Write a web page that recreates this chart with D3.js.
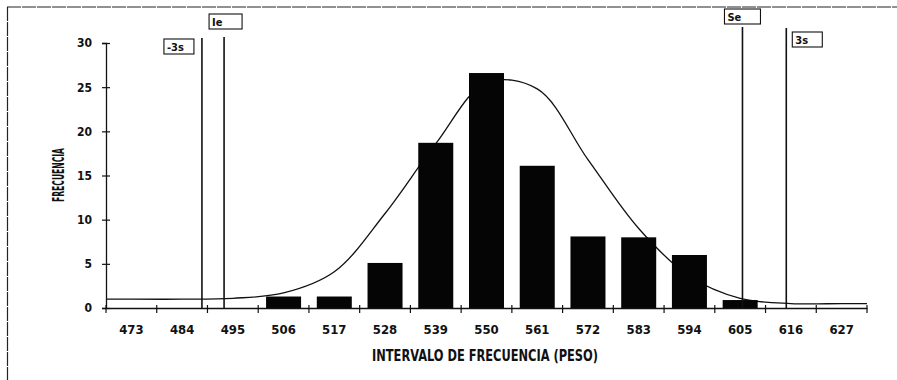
<!DOCTYPE html>
<html>
<head>
<meta charset="utf-8">
<script src="https://cdn.jsdelivr.net/npm/d3@7"></script>
<style>
  html, body { margin: 0; padding: 0; background: #fff; }
  svg { display: block; }
  text { font-family: 'Liberation Sans Narrow', 'DejaVu Sans Condensed', 'Liberation Sans', sans-serif; fill: #111; }
</style>
</head>
<body>
<svg id="chart" width="897" height="380"></svg>
<script>
// ---- data ----
const categories = [473, 484, 495, 506, 517, 528, 539, 550, 561, 572, 583, 594, 605, 616, 627];
const frequency  = [0, 0, 0, 1.3, 1.3, 5.1, 18.7, 26.6, 16.1, 8.1, 8.0, 6.0, 0.9, 0, 0];
const normalCurve = [1.0, 1.0, 1.1, 1.7, 4.1, 10.7, 18.6, 25.5, 24.8, 16.8, 9.0, 3.6, 1.1, 0.5, 0.5];
const yTicks = [0, 5, 10, 15, 20, 25, 30];
const refLabels = ["-3s", "Ie", "Se", "3s"];
const refValues = [488.3, 493.1, 605.5, 615.0];

// ---- layout ----
const W = 897, H = 380;
const plot = { left: 106, right: 867, top: 43, bottom: 308 };
const refStyle = {
  "-3s": { lineTop: 38, boxDx: -38, boxY: 39, boxW: 30 },
  "Ie":  { lineTop: 37, boxDx: -15, boxY: 14, boxW: 33 },
  "Se":  { lineTop: 27, boxDx: -18, boxY: 9,  boxW: 36 },
  "3s":  { lineTop: 28, boxDx: 6,   boxY: 32, boxW: 30 }
};

const svg = d3.select("#chart");

// outer frame (top and left edges visible)
svg.append("line").attr("x1", 7).attr("x2", W).attr("y1", 7).attr("y2", 7)
  .attr("stroke", "#222").attr("stroke-width", 1.2).attr("stroke-dasharray", "14,1");
svg.append("line").attr("x1", 7.5).attr("x2", 7.5).attr("y1", 7).attr("y2", H)
  .attr("stroke", "#222").attr("stroke-width", 1.2).attr("stroke-dasharray", "14,1");

const x = d3.scaleBand().domain(categories).range([plot.left, plot.right]).padding(0);
const y = d3.scaleLinear().domain([0, 30]).range([plot.bottom, plot.top]);
const xv = d3.scaleLinear()
  .domain([categories[0], categories[categories.length - 1]])
  .range([x(categories[0]) + x.bandwidth() / 2, x(categories[categories.length - 1]) + x.bandwidth() / 2]);

// normal curve (drawn behind the bars)
const pts = categories.map((c, i) => [x(c) + x.bandwidth() / 2, y(normalCurve[i])]);
const curvePts = [[plot.left, y(normalCurve[0])], ...pts, [plot.right, y(normalCurve[normalCurve.length - 1])]];
svg.append("path")
  .attr("d", d3.line().curve(d3.curveCatmullRom)(curvePts))
  .attr("fill", "none").attr("stroke", "#111").attr("stroke-width", 1.3);

// bars
const barW = x.bandwidth() * 0.69;
svg.append("g").selectAll("rect")
  .data(categories.map((c, i) => ({ c, v: frequency[i] })).filter(d => d.v > 0))
  .join("rect")
  .attr("x", d => x(d.c) + (x.bandwidth() - barW) / 2)
  .attr("width", barW)
  .attr("y", d => y(d.v))
  .attr("height", d => y(0) - y(d.v))
  .attr("fill", "#050505");

// y axis
const yAxis = svg.append("g").attr("transform", `translate(${plot.left},0)`)
  .call(d3.axisLeft(y).tickValues(yTicks).tickSize(4).tickPadding(10));
yAxis.select(".domain").attr("stroke", "#111").attr("stroke-width", 1.3);
yAxis.selectAll(".tick line").attr("x2", 4).attr("x1", -4).attr("stroke", "#111").attr("stroke-width", 1.2);
yAxis.selectAll(".tick text").attr("font-size", 12).attr("font-weight", "bold");

// x axis
const xAxis = svg.append("g").attr("transform", `translate(0,${plot.bottom})`)
  .call(d3.axisBottom(x).tickSize(0).tickPadding(17));
xAxis.select(".domain").attr("stroke", "#111").attr("stroke-width", 1.3);
xAxis.selectAll(".tick text").attr("font-size", 13).attr("font-weight", "bold");
const boundaries = categories.map(c => x(c)).concat([plot.right]);
svg.append("g").selectAll("line").data(boundaries).join("line")
  .attr("x1", d => d).attr("x2", d => d)
  .attr("y1", plot.bottom - 3).attr("y2", plot.bottom + 5)
  .attr("stroke", "#111").attr("stroke-width", 1.2);

// reference lines
refLabels.forEach((lab, i) => {
  const st = refStyle[lab];
  const px = xv(refValues[i]);
  svg.append("line").attr("x1", px).attr("x2", px)
    .attr("y1", st.lineTop).attr("y2", plot.bottom)
    .attr("stroke", "#111").attr("stroke-width", 1.6);
  svg.append("rect").attr("x", px + st.boxDx).attr("y", st.boxY)
    .attr("width", st.boxW).attr("height", 15)
    .attr("fill", "#fff").attr("stroke", "#111").attr("stroke-width", 1.1);
  svg.append("text").attr("x", px + st.boxDx + 3).attr("y", st.boxY + 11.5)
    .attr("font-size", 11).attr("font-weight", "bold").text(lab);
});

// axis titles
svg.append("text")
  .attr("x", 485).attr("y", 361).attr("text-anchor", "middle")
  .attr("font-size", 15).attr("font-weight", "bold")
  .attr("textLength", 226).attr("lengthAdjust", "spacingAndGlyphs")
  .text("INTERVALO DE FRECUENCIA (PESO)");
svg.append("text")
  .attr("transform", "translate(64,175) rotate(-90)")
  .attr("text-anchor", "middle")
  .attr("font-size", 16).attr("font-weight", "bold")
  .attr("textLength", 54).attr("lengthAdjust", "spacingAndGlyphs")
  .text("FRECUENCIA");
</script>
</body>
</html>
